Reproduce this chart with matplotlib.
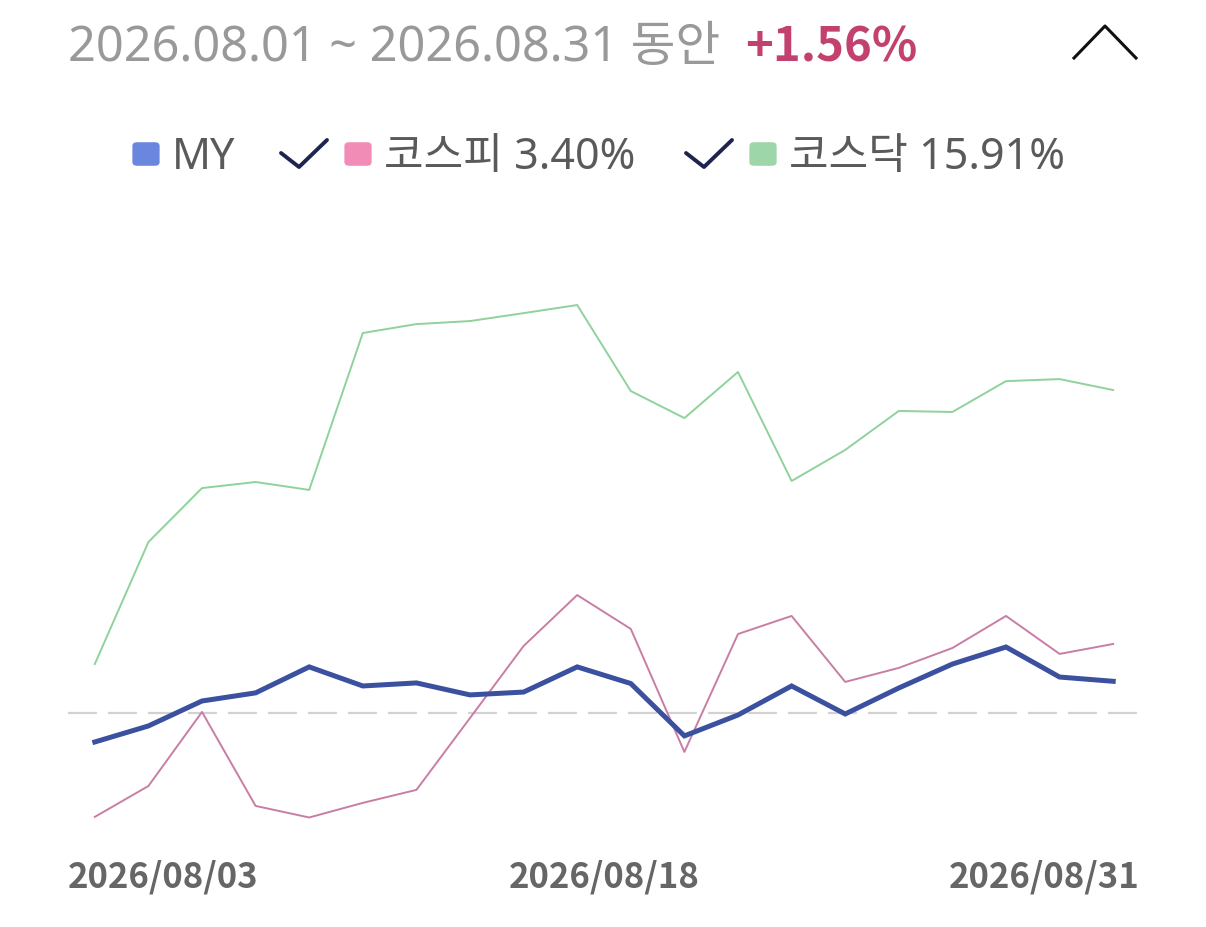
import matplotlib
matplotlib.use('Agg')
import matplotlib.pyplot as plt
from matplotlib.patches import FancyBboxPatch
from matplotlib.lines import Line2D

plt.rcParams['font.family'] = ['Noto Sans CJK KR', 'DejaVu Sans']
latin_first = ['Noto Sans', 'Noto Sans CJK KR']

# trading days in August 2026 (Aug 17 substitute holiday)
dates = ['08/03', '08/04', '08/05', '08/06', '08/07', '08/10', '08/11', '08/12', '08/13', '08/14',
         '08/18', '08/19', '08/20', '08/21', '08/24', '08/25', '08/26', '08/27', '08/28', '08/31']

# cumulative return (%)
my_ret = [-1.43, -0.64, 0.59, 0.99, 2.27, 1.33, 1.48, 0.89, 1.03, 2.27,
          1.45, -1.13, -0.10, 1.33, -0.05, 1.23, 2.41, 3.25, 1.77, 1.56]
kospi_ret = [-5.12, -3.60, 0.05, -4.58, -5.15, -4.43, -3.79, -0.25, 3.30, 5.81,
             4.14, -1.92, 3.89, 4.78, 1.53, 2.22, 3.20, 4.78, 2.91, 3.40]
kosdaq_ret = [2.41, 8.42, 11.08, 11.38, 10.99, 18.72, 19.16, 19.31, 19.70, 20.10,
              15.86, 14.53, 16.80, 11.43, 12.96, 14.88, 14.83, 16.35, 16.45, 15.91]

tick_pos = [-0.5, 9.5, 19.5]
tick_labels = ['2026/08/03', '2026/08/18', '2026/08/31']

W, H = 1206, 928
fig = plt.figure(figsize=(W / 100, H / 100), dpi=100)


def fx(x):
    return x / W


def fy(y):
    return 1 - y / H


# plot area: x 68..1140 px, y 250..840 px
ax = fig.add_axes([fx(68), fy(840), fx(1140) - fx(68), fy(250) - fy(840)])
x = list(range(len(dates)))
ax.axhline(0, color='#d2d2d2', lw=1.6, dashes=(13, 5), zorder=1)
ax.plot(x, kosdaq_ret, color='#8fd29b', lw=1.4, zorder=2)
ax.plot(x, kospi_ret, color='#c87ea4', lw=1.4, zorder=3)
ax.plot(x, my_ret, color='#3b51a0', lw=3.6, zorder=4, solid_joinstyle='miter')

ax.set_xlim(-0.5, 19.5)
ax.set_ylim(-6.21, 22.86)
ax.set_yticks([])
ax.set_xticks(tick_pos)
ax.set_xticklabels(tick_labels, fontsize=25, fontweight='bold', color='#666666')
for lab, ha in zip(ax.get_xticklabels(), ['left', 'center', 'right']):
    lab.set_horizontalalignment(ha)
ax.tick_params(axis='x', length=0, pad=14)
for s in ax.spines.values():
    s.set_visible(False)

# header
fig.text(fx(68), fy(61), '2026.08.01 ~ 2026.08.31 동안', fontsize=35, color='#999999',
         ha='left', va='baseline', family=latin_first)
fig.text(fx(745), fy(61), '+1.56%', fontsize=34, color='#c2416f', fontweight='bold',
         ha='left', va='baseline')
fig.add_artist(Line2D([fx(1074), fx(1105), fx(1136)], [fy(59), fy(27), fy(59)],
                      color='#111111', lw=2.2))

# legend
legend_items = [('MY', '#6b86df', 133, False),
                ('코스피 3.40%', '#f08cb5', 345, True),
                ('코스닥 15.91%', '#9dd6a8', 750, True)]
for label, col, x0, check in legend_items:
    fig.add_artist(FancyBboxPatch((fx(x0 + 3), fy(164)), fx(20), fy(146) - fy(164),
                                  boxstyle='round,pad=0.003,rounding_size=0.004',
                                  fc=col, ec='none', transform=fig.transFigure))
    fig.text(fx(x0 + 39), fy(169), label, fontsize=31, color='#5a5a5a',
             ha='left', va='baseline', family=latin_first)
    if check:
        cx = x0 - 64
        fig.add_artist(Line2D([fx(cx), fx(cx + 18), fx(cx + 46)],
                              [fy(154), fy(168), fy(141)],
                              color='#1e2350', lw=2.8, solid_capstyle='round',
                              solid_joinstyle='round'))

fig.savefig('out.png', dpi=100)
